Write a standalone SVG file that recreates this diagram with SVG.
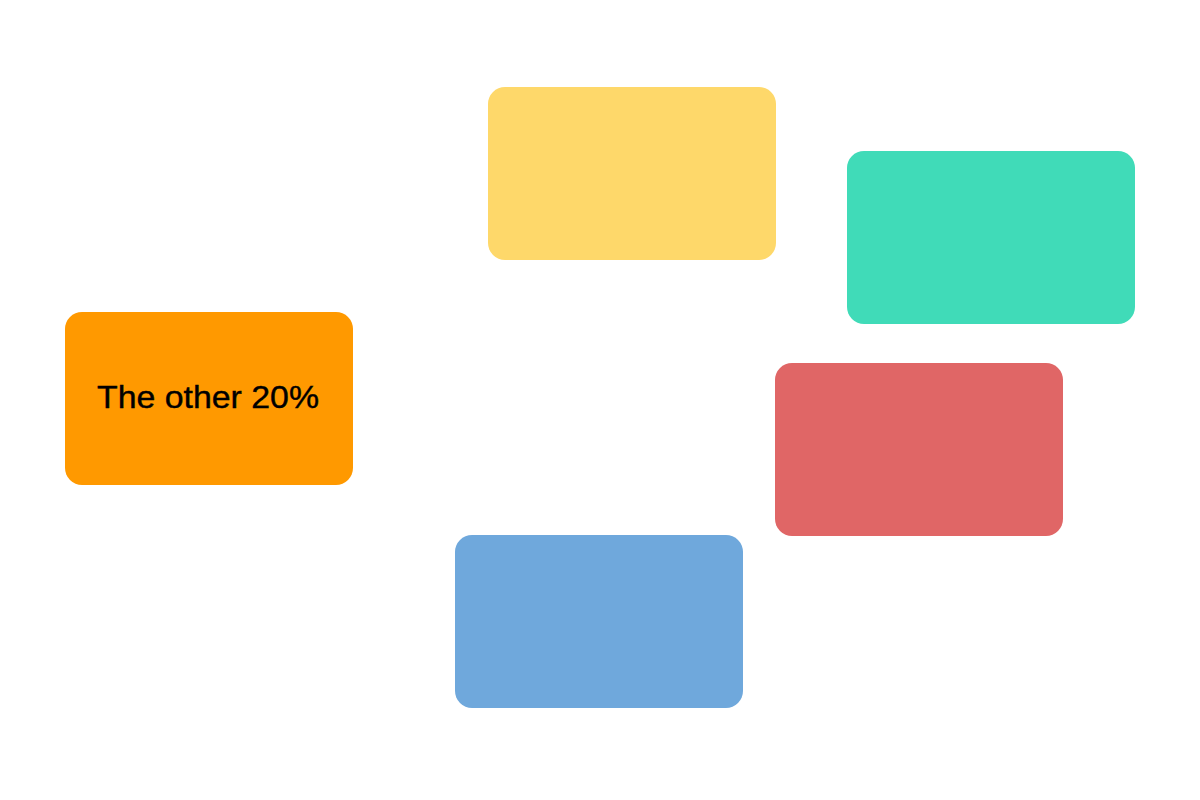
<svg xmlns="http://www.w3.org/2000/svg" width="1200" height="800" viewBox="0 0 1200 800">
<style>
.box{stroke:none}
.lbl{font-family:"Liberation Sans",Arial,sans-serif;font-size:32px;fill:#000;text-anchor:middle;stroke:#000;stroke-width:0.4}
</style>
<rect width="1200" height="800" fill="#fff"/>
<g id="connectors"></g>
<g id="node-yellow"><rect class="box" x="488" y="87" width="288" height="173" rx="17" fill="#FED86A"/></g>
<g id="node-teal"><rect class="box" x="847" y="151" width="288" height="173" rx="17" fill="#40DBB8"/></g>
<g id="node-orange"><rect class="box" x="65" y="312" width="288" height="173" rx="17" fill="#FF9900"/><text class="lbl" x="208" y="408" textLength="222" lengthAdjust="spacingAndGlyphs">The other 20%</text></g>
<g id="node-red"><rect class="box" x="775" y="363" width="288" height="173" rx="17" fill="#E06666"/></g>
<g id="node-blue"><rect class="box" x="455" y="535" width="288" height="173" rx="17" fill="#6FA8DC"/></g>
</svg>
